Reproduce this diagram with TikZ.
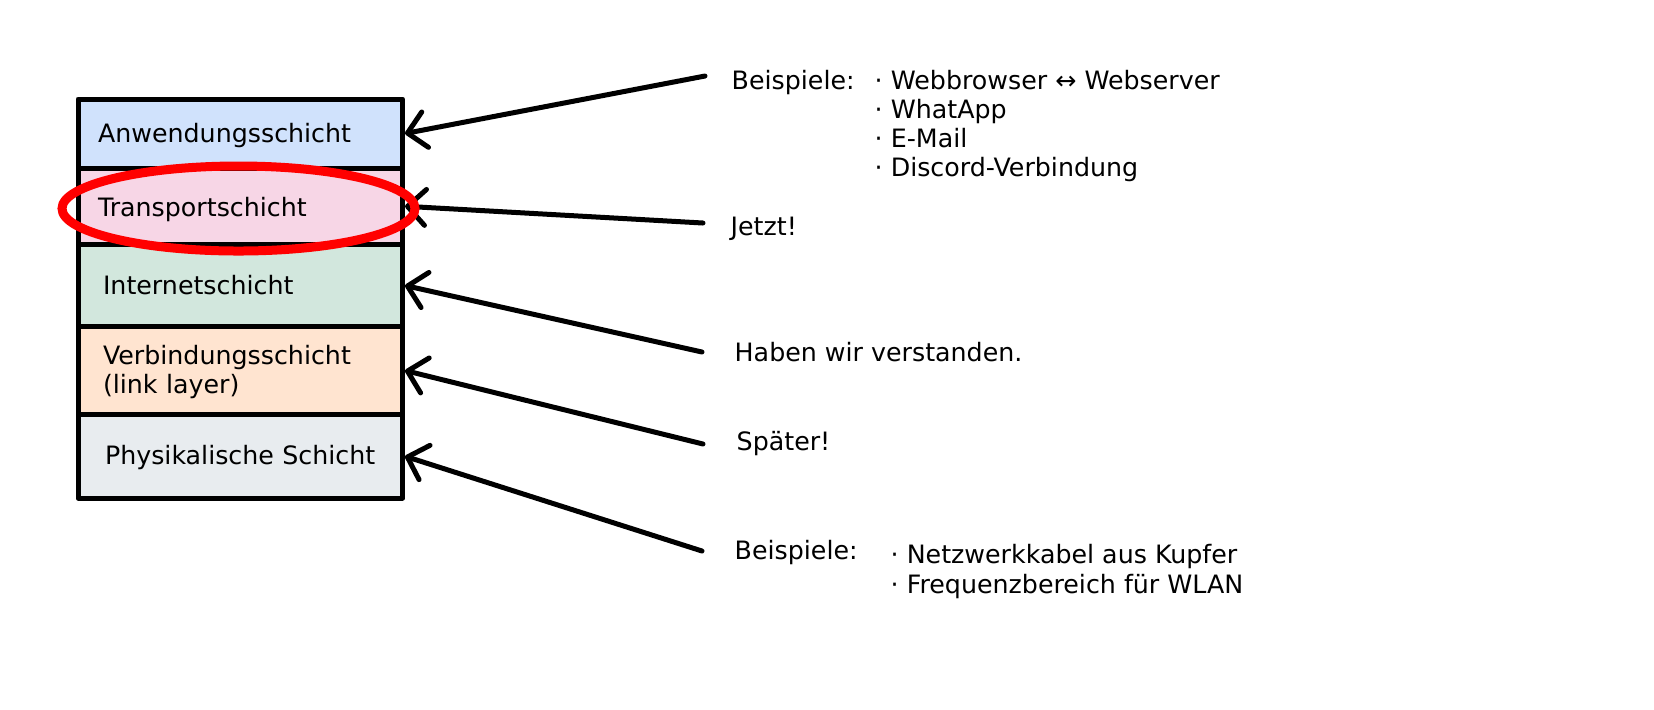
\documentclass[tikz,border=0pt]{standalone}
\usepackage{fontspec}
\setmainfont{DejaVu Sans}
\usepackage{tikz}
\usetikzlibrary{arrows.meta,positioning}
\definecolor{appblue}{RGB}{208,226,252}
\definecolor{transpink}{RGB}{247,214,230}
\definecolor{inetgreen}{RGB}{210,231,221}
\definecolor{linkpeach}{RGB}{255,228,208}
\definecolor{physgray}{RGB}{232,236,239}
\tikzstyle{layer}=[rectangle, draw=black, line width=0.05cm, minimum width=3.245cm, text width=2.845cm, align=left, inner xsep=0.2cm, text height=0.17cm, text depth=0pt, line join=round]
\tikzstyle{pointer}=[-{Straight Barb[length=1.8mm,width=3.6mm,round]}, line width=0.05cm, line cap=round]
\tikzstyle{note}=[anchor=base west, inner sep=0pt, align=left]

\begin{document}
\begin{tikzpicture}[font=\fontsize{7.2}{8.3}\selectfont]
\useasboundingbox (0,0) rectangle (16.54,-7.09);
%Layers
\node[layer, fill=appblue, minimum height=0.69cm] (app) at (2.4025,-1.335){Anwendungsschicht};
\node[layer, fill=transpink, minimum height=0.765cm, text height=0.21cm] (trans) at (2.4025,-2.0625){Transportschicht};
\node[layer, fill=inetgreen, minimum height=0.82cm, text width=2.745cm] (inet) at (2.4025,-2.855){Internetschicht};
\node[layer, fill=linkpeach, minimum height=0.88cm, text width=2.745cm, text depth=0.30cm] (link) at (2.4025,-3.705){Verbindungsschicht\\(link layer)};
\node[layer, fill=physgray, minimum height=0.835cm, text width=2.705cm] (phys) at (2.4025,-4.5625){Physikalische Schicht};

%Notes
\node[note] (bsp1) at (7.31,-0.89){Beispiele:};
\node[note] (bsp1list) at (8.74,-1.766){· Webbrowser ↔ Webserver\\· WhatApp\\· E-Mail\\· Discord-Verbindung};
\node[note] (jetzt) at (7.30,-2.35){Jetzt!};
\node[note] (haben) at (7.34,-3.61){Haben wir verstanden.};
\node[note] (spaeter) at (7.36,-4.50){Später!};
\node[note] (bsp2) at (7.34,-5.59){Beispiele:};
\node[note] (bsp2list) at (8.90,-5.93){· Netzwerkkabel aus Kupfer\\· Frequenzbereich für WLAN};

%Arrows
\coordinate (s1) at (7.05,-0.76);
\coordinate (s2) at (7.03,-2.23);
\coordinate (s3) at (7.02,-3.52);
\coordinate (s4) at (7.03,-4.44);
\coordinate (s5) at (7.02,-5.51);
\draw[pointer] (s1) -- (app.east);
\draw[pointer] (s2) -- (trans.east);
\draw[pointer] (s3) -- (inet.east);
\draw[pointer] (s4) -- (link.east);
\draw[pointer] (s5) -- (phys.east);

%Highlight
\draw[red, line width=0.09cm] (2.385,-2.085) ellipse [x radius=1.765cm, y radius=0.425cm];
\end{tikzpicture}
\end{document}
